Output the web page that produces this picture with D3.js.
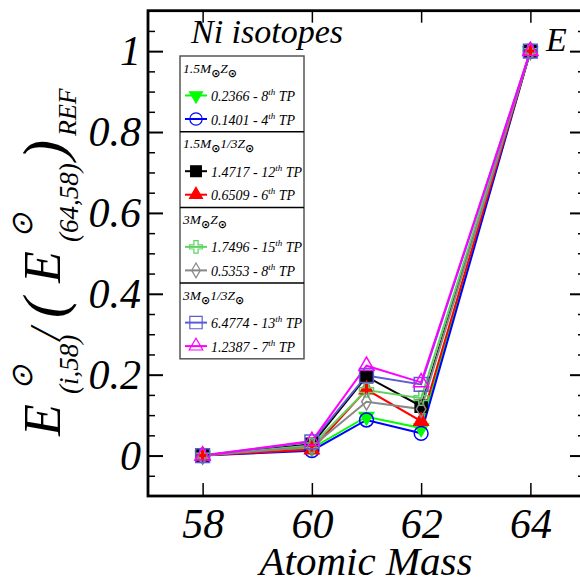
<!DOCTYPE html>
<html>
<head>
<meta charset="utf-8">
<script src="https://cdn.jsdelivr.net/npm/d3@7"></script>
<style>
  body { margin: 0; background: #fff; }
  svg text { font-family: "Liberation Serif", "Times New Roman", serif; font-style: italic; }
</style>
</head>
<body>
<div id="chart"></div>
<script>
// Ni isotopes, normalised ratios

const masses = [58, 60, 61, 62, 64];
const xTicks = [58, 60, 62, 64];
const yMajor = [0, 0.2, 0.4, 0.6, 0.8, 1];

const sGreen   = [0, 0.018, 0.096, 0.068, 1];   // 1.5 Z  0.2366
const sBlue    = [0, 0.012, 0.088, 0.055, 1];   // 1.5 Z  0.1401
const sBlack   = [0, 0.028, 0.195, 0.122, 1];   // 1.5 1/3Z 1.4717
const sRed     = [0, 0.015, 0.163, 0.085, 1];   // 1.5 1/3Z 0.6509
const sLtGreen = [0, 0.025, 0.162, 0.142, 1];   // 3 Z 1.7496
const sGrey    = [0, 0.022, 0.133, 0.115, 1];   // 3 Z 0.5353
const sSlate   = [0, 0.034, 0.198, 0.176, 1];   // 3 1/3Z 6.4774
const sMagenta = [0, 0.036, 0.222, 0.181, 1];   // 3 1/3Z 1.2387

const groupHeaders = [
  ["1.5M", "Z"], ["1.5M", "1/3Z"], ["3M", "Z"], ["3M", "1/3Z"]
];
const entryValues = ["0.2366", "0.1401", "1.4717", "0.6509", "1.7496", "0.5353", "6.4774", "1.2387"];
const entryTP = [8, 4, 12, 6, 15, 8, 13, 7];

// drawn in legend order, last on top
const series = [
  { values: sGreen,   color: "#00ff00", shape: d3.symbolTriangle, size: 90,  fill: true,  rot: 180 },
  { values: sBlue,    color: "#0000ff", shape: d3.symbolCircle,   size: 150, fill: false, rot: 0 },
  { values: sBlack,   color: "#000000", shape: d3.symbolSquare,   size: 144, fill: true,  rot: 0 },
  { values: sRed,     color: "#ff0000", shape: d3.symbolTriangle, size: 90,  fill: true,  rot: 0 },
  { values: sLtGreen, color: "#5fd35f", shape: d3.symbolCross,    size: 110, fill: false, rot: 0 },
  { values: sGrey,    color: "#888888", shape: d3.symbolDiamond,  size: 80,  fill: false, rot: 0 },
  { values: sSlate,   color: "#5c5cd6", shape: d3.symbolSquare,   size: 190, fill: false, rot: 0 },
  { values: sMagenta, color: "#ff00ff", shape: d3.symbolTriangle, size: 100, fill: false, rot: 0 }
];

const W = 580, H = 579;
const frame = { left: 148, right: 585, top: 10.7, bottom: 496 };

const svg = d3.select('#chart').append('svg')
  .attr('width', W).attr('height', H);

const x = d3.scaleLinear().domain([57, 65]).range([frame.left, frame.right]);
const y = d3.scaleLinear().domain([-0.1, 1.1]).range([frame.bottom, frame.top]);

const yMinor = d3.range(-0.05, 1.1, 0.05).map(v => +v.toFixed(2))
  .filter(v => !yMajor.some(m => Math.abs(m - v) < 1e-6));

function styleAxis(g) {
  g.select('.domain').remove();
  g.selectAll('line').attr('stroke', '#000');
}

// left axis
svg.append('g').attr('transform', `translate(${frame.left},0)`)
  .call(d3.axisLeft(y).tickValues(yMajor).tickSize(-15).tickPadding(7)
    .tickFormat(d => d === 0 ? '0' : d === 1 ? '1' : d3.format('.1f')(d)))
  .call(styleAxis)
  .call(g => g.selectAll('line').attr('stroke-width', 2))
  .call(g => g.selectAll('text').attr('font-size', 42)
    .attr('font-family', '"Liberation Serif", serif').attr('fill', '#000'));
svg.append('g').attr('transform', `translate(${frame.left},0)`)
  .call(d3.axisLeft(y).tickValues(yMinor).tickSize(-7).tickFormat(''))
  .call(styleAxis).call(g => g.selectAll('line').attr('stroke-width', 1.5));

// right axis
svg.append('g').attr('transform', `translate(${frame.right},0)`)
  .call(d3.axisRight(y).tickValues(yMajor).tickSize(-15).tickFormat(''))
  .call(styleAxis).call(g => g.selectAll('line').attr('stroke-width', 2));
svg.append('g').attr('transform', `translate(${frame.right},0)`)
  .call(d3.axisRight(y).tickValues(yMinor).tickSize(-7).tickFormat(''))
  .call(styleAxis).call(g => g.selectAll('line').attr('stroke-width', 1.5));

// bottom / top axis
svg.append('g').attr('transform', `translate(0,${frame.bottom})`)
  .call(d3.axisBottom(x).tickValues(xTicks).tickSize(-13).tickPadding(12))
  .call(styleAxis)
  .call(g => g.selectAll('line').attr('stroke-width', 1.5))
  .call(g => g.selectAll('text').attr('font-size', 42)
    .attr('font-family', '"Liberation Serif", serif').attr('fill', '#000'));
svg.append('g').attr('transform', `translate(0,${frame.top})`)
  .call(d3.axisTop(x).tickValues(xTicks).tickSize(-12).tickFormat(''))
  .call(styleAxis).call(g => g.selectAll('line').attr('stroke-width', 1.5));

// frame
svg.append('rect')
  .attr('x', frame.left).attr('y', frame.top)
  .attr('width', frame.right - frame.left).attr('height', frame.bottom - frame.top)
  .attr('fill', 'none').attr('stroke', '#000').attr('stroke-width', 2.8);

// series lines
const line = d3.line().x((d, i) => x(masses[i])).y(d => y(d));
series.forEach(s => {
  svg.append('path').datum(s.values)
    .attr('d', line)
    .attr('fill', 'none')
    .attr('stroke', s.color)
    .attr('stroke-width', 2);
});

// markers
series.forEach(s => {
  svg.append('g').selectAll('path')
    .data(s.values)
    .join('path')
    .attr('d', d3.symbol(s.shape, s.size))
    .attr('transform', (d, i) => `translate(${x(masses[i])},${y(d)}) rotate(${s.rot})`)
    .attr('fill', s.fill ? s.color : 'none')
    .attr('stroke', s.color)
    .attr('stroke-width', 1.5);
});

// title + cut-off label
svg.append('text').attr('x', 191).attr('y', 43).attr('font-size', 34).text('Ni isotopes');
svg.append('text').attr('x', 546).attr('y', 51).attr('font-size', 34).text('E');

// legend
const leg = svg.append('g');
const legTop = 56, secH = 75.7, legL = 180, legR = 304;
leg.append('rect')
  .attr('x', legL).attr('y', legTop)
  .attr('width', legR - legL).attr('height', secH * 4)
  .attr('fill', '#fff').attr('stroke', '#555').attr('stroke-width', 1.5);
for (let k = 1; k < 4; k++) {
  leg.append('line')
    .attr('x1', legL).attr('x2', legR)
    .attr('y1', legTop + k * secH).attr('y2', legTop + k * secH)
    .attr('stroke', '#000').attr('stroke-width', 1.5);
}
function sunTspan(t) {
  t.append('tspan').attr('dy', 4).attr('font-size', 11).attr('font-weight', 'bold')
    .attr('font-style', 'normal').attr('font-family', '"DejaVu Sans", sans-serif').text('\u2299');
}
groupHeaders.forEach((h, k) => {
  const top = legTop + k * secH;
  const t = leg.append('text').attr('x', 183).attr('y', top + 16.7).attr('font-size', 13.5);
  t.append('tspan').text(h[0]);
  sunTspan(t);
  t.append('tspan').attr('dy', -4).text(h[1]);
  sunTspan(t);

  [0, 1].forEach(j => {
    const idx = k * 2 + j;
    const s = series[idx];
    const by = top + 45 + j * 23.5;
    const cy = by - 5.5;
    leg.append('line').attr('x1', 185).attr('x2', 207).attr('y1', cy).attr('y2', cy)
      .attr('stroke', s.color).attr('stroke-width', 2);
    leg.append('path')
      .attr('d', d3.symbol(s.shape, s.size * 0.8))
      .attr('transform', `translate(196,${cy}) rotate(${s.rot})`)
      .attr('fill', s.fill ? s.color : 'none')
      .attr('stroke', s.color).attr('stroke-width', 1.2);
    const tx = leg.append('text').attr('x', 211).attr('y', by).attr('font-size', 14);
    tx.append('tspan').text(`${entryValues[idx]} - ${entryTP[idx]}`);
    tx.append('tspan').attr('dy', -6).attr('font-size', 9).text('th');
    tx.append('tspan').attr('dy', 6).text(' TP');
  });
});

// y axis label (rotated)
const yl = svg.append('g').attr('transform', 'translate(60,436) rotate(-90)');
function ylText(u, v, size, str, opts = {}) {
  const t = yl.append('text').attr('x', u).attr('y', v).attr('font-size', size).text(str);
  if (opts.upright) t.attr('font-style', 'normal');
  if (opts.family) t.attr('font-family', opts.family);
  return t;
}
ylText(0, 0, 52, 'E');
ylText(46, -28, 30, '\u2299', { upright: true, family: '"DejaVu Sans", sans-serif' });
ylText(42, 18, 27, '(i,58)');
ylText(96, 0, 44, '/');
ylText(118, 4, 60, '(', { upright: true });
ylText(153, 0, 52, 'E');
ylText(198, -28, 30, '\u2299', { upright: true, family: '"DejaVu Sans", sans-serif' });
ylText(194, 18, 27, '(64,58)');
ylText(276, 4, 60, ')', { upright: true });
ylText(300, 16, 26, 'REF');

// x axis title
svg.append('text').attr('x', 366).attr('y', 575).attr('text-anchor', 'middle')
  .attr('font-size', 41).text('Atomic Mass');
</script>
</body>
</html>
